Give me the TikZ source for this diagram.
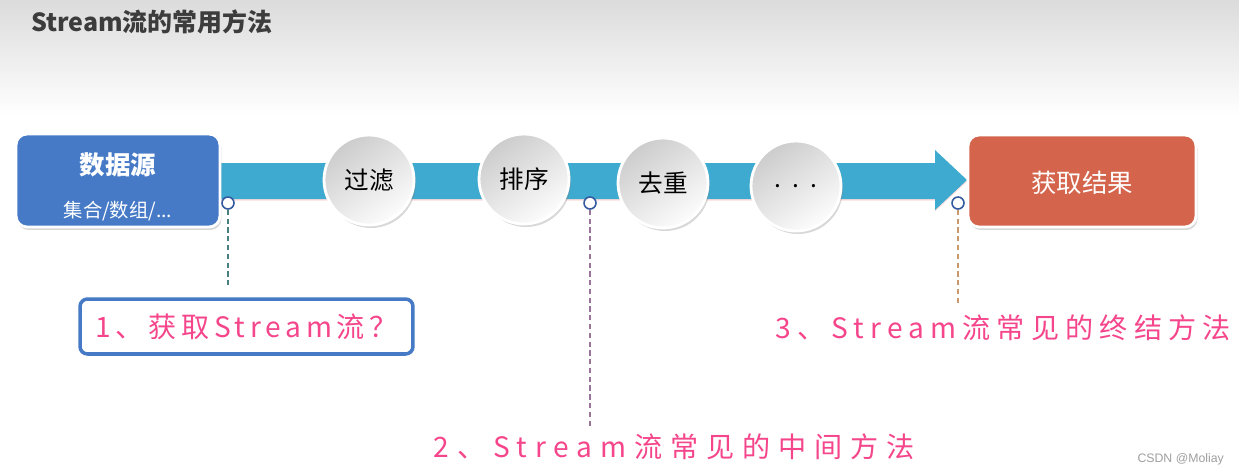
\documentclass[tikz,border=0pt]{standalone}
\usepackage{fontspec}
\setmainfont{Noto Sans CJK SC}
\newfontfamily\hand[LetterSpace=22]{Noto Sans CJK SC}
\newfontfamily\handn[LetterSpace=17]{Noto Sans CJK SC}
\newfontfamily\handw[LetterSpace=28]{Noto Sans CJK SC}
\newfontfamily\wmfont{Liberation Sans}
\usetikzlibrary{shadows}

\definecolor{srcblue}{RGB}{70,122,198}
\definecolor{resred}{RGB}{212,101,76}
\definecolor{bandblue}{RGB}{62,170,207}
\definecolor{pinktxt}{RGB}{245,70,140}
\definecolor{titlegray}{RGB}{60,60,60}
\definecolor{dotblue}{RGB}{52,90,160}

\begin{document}
\begin{tikzpicture}[
  x=0.02cm,
  y=-0.02cm,
  caja/.style={draw=white, line width=1.6pt, rounded corners=0.22cm,
    drop shadow={opacity=0.3, shadow xshift=0.03cm, shadow yshift=-0.06cm}},
  bola/.style={circle, draw=white, line width=1.6pt, minimum size=1.8cm,
    top color=gray!40, bottom color=gray!2, shading angle=35,
    drop shadow={opacity=0.3, shadow xshift=0.04cm, shadow yshift=-0.06cm},
    font=\fontsize{14}{16}\selectfont},
  punto/.style={circle, draw=dotblue, fill=white, line width=0.9pt,
    minimum size=0.24cm, inner sep=0pt},
  rosa/.style={text=pinktxt, font=\hand\fontsize{16}{19}\selectfont, inner sep=1pt}
]
\useasboundingbox (0,0) rectangle (1239,474);

%--------------------
% 背景与标题
%--------------------
\fill[white] (0,0) rectangle (1239,474);
\shade[top color=gray!28, bottom color=white] (0,0) rectangle (1239,115);
\node[anchor=west, text=titlegray, font=\bfseries\fontsize{14.2}{16}\selectfont] (titulo) at (25,22) {Stream流的常用方法};

%--------------------
% 蓝色箭头
%--------------------
\fill[bandblue, drop shadow={opacity=0.35, fill=red!40, shadow xshift=0cm, shadow yshift=-0.03cm}]
  (220,163) -- (935,163) -- (935,150) -- (967,180) -- (935,210) -- (935,199) -- (220,199) -- cycle;

%--------------------
% 数据源 / 获取结果
%--------------------
\node[caja, fill=srcblue, minimum width=4.08cm, minimum height=1.86cm] (src) at (118,180.5) {};
\node[text=white, font=\bfseries\fontsize{14.5}{17}\selectfont] (srcname) at (118,165) {数据源};
\node[text=white, font=\fontsize{11}{13}\selectfont] (srcsub) at (118,211) {集合/数组/...};

\node[caja, fill=resred, minimum width=4.56cm, minimum height=1.84cm] (res) at (1082,181) {};
\node[text=white, font=\fontsize{14.5}{17}\selectfont] (restxt) at (1082,183) {获取结果};

%--------------------
% 中间方法
%--------------------
\foreach \nom/\x/\y/\txt in {filt/369/180/过滤, sort/524/179/排序, dist/663/183/去重, more/796/186/{.\ \ .\ \ .}} {
  \node[bola] (\nom) at (\x,\y) {\txt};
}

%--------------------
% 说明
%--------------------
\node[draw=srcblue, line width=2pt, rounded corners=0.15cm, minimum width=6.66cm, minimum height=1.1cm, rosa,
  font=\handn\fontsize{16}{19}\selectfont] (q1) at (246.5,326.5) {1、获取Stream流？};
\node[rosa, font=\handw\fontsize{16}{19}\selectfont] (lab2) at (674,447) {2、Stream流常见的中间方法};
\node[rosa] (lab3) at (1003,328) {3、Stream流常见的终结方法};

\node[punto] (p1) at (228,203) {};
\node[punto] (p2) at (590,203) {};
\node[punto] (p3) at (958,203) {};

\draw[dashed, dash pattern=on 3pt off 2pt, line width=0.7pt, teal!45!gray, shorten >=0.18cm] (p1.south) -- (q1.north -| p1);
\draw[dashed, dash pattern=on 3pt off 2pt, line width=0.7pt, violet!35!gray!80, shorten >=0.05cm] (p2.south) -- (p2 |- lab2.north);
\draw[dashed, dash pattern=on 3pt off 2pt, line width=0.7pt, orange!45!gray!80, shorten >=0.2cm] (p3.south) -- (p3 |- lab3.north);

\node[anchor=east, text=gray!75, font=\wmfont\fontsize{7}{8}\selectfont] (wm) at (1230,459) {CSDN @Moliay};

\end{tikzpicture}
\end{document}
